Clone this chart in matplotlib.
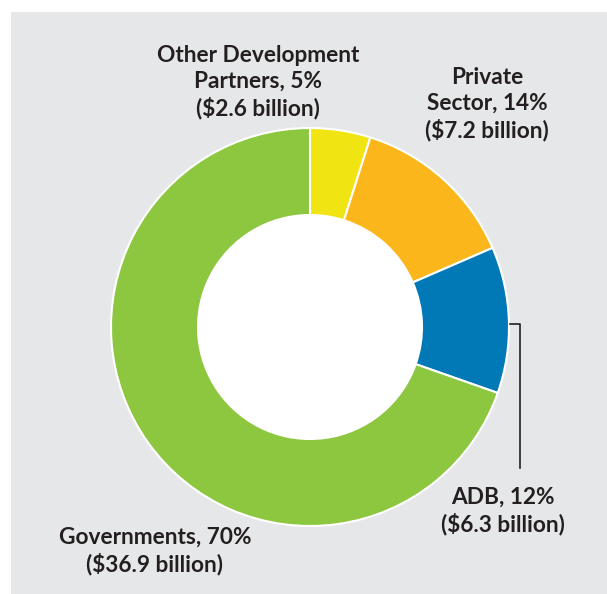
import matplotlib
matplotlib.use("Agg")
import matplotlib.pyplot as plt
from matplotlib.patches import Rectangle, Circle

labels = ["Other Development\nPartners, 5%\n($2.6 billion)",
          "Private\nSector, 14%\n($7.2 billion)",
          "ADB, 12%\n($6.3 billion)",
          "Governments, 70%\n($36.9 billion)"]
values = [2.6, 7.2, 6.3, 36.9]
colors = ["#f0e513", "#fbb61b", "#0079b6", "#8dc63f"]

W, H = 607, 594
fig = plt.figure(figsize=(W / 100, H / 100), dpi=100)
ax = fig.add_axes([0, 0, 1, 1])
fig.patch.set_facecolor("white")

ax.add_patch(Rectangle((11, 0), W - 11, H - 12, facecolor="#e6e7e8", edgecolor="none", zorder=0))

cx, cy = 310, H - 327
R, r = 199, 112
ax.pie(values, colors=colors, startangle=90, counterclock=False,
       center=(cx, cy), radius=R, frame=True,
       wedgeprops=dict(width=R - r, edgecolor="white", linewidth=1.5))
ax.add_patch(Circle((cx, cy), r, facecolor="white", edgecolor="none", zorder=3))
ax.set_xlim(0, W)
ax.set_ylim(0, H)
ax.set_aspect("equal")
ax.axis("off")

# leader line for ADB
ax.plot([510, 520, 520], [H - 324, H - 324, H - 468], color="#231f20", lw=1.2, zorder=5)

font = dict(family=["Lato", "DejaVu Sans"], fontweight="bold", fontsize=16.3,
            color="#231f20", ha="center", va="center", linespacing=1.27)
pos = [(258, 82), (487, 104), (503, 511), (155, 551)]
for lab, (x, y) in zip(labels, pos):
    ax.text(x, H - y, lab, **font)

fig.savefig("out.png", dpi=100, facecolor="white")
